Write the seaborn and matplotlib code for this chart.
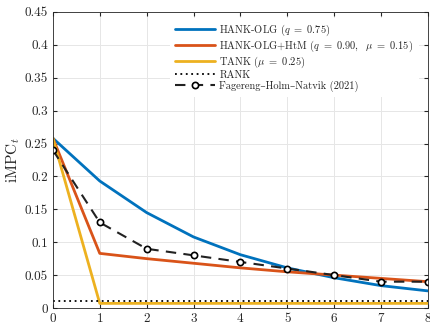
import numpy as np
import pandas as pd
import seaborn as sns
import matplotlib
matplotlib.use("Agg")
import matplotlib.pyplot as plt

horizon = [0, 1, 2, 3, 4, 5, 6, 7, 8]
hank_olg = [0.258, 0.193, 0.145, 0.108, 0.081, 0.061, 0.046, 0.034, 0.026]
hank_olg_htm = [0.258, 0.083, 0.075, 0.068, 0.061, 0.055, 0.050, 0.045, 0.040]
tank = [0.258, 0.007, 0.007, 0.007, 0.007, 0.007, 0.007, 0.007, 0.007]
rank = [0.01] * 9
fhn = [0.24, 0.13, 0.09, 0.08, 0.07, 0.06, 0.05, 0.04, 0.04]

labels = [r"HANK-OLG ($q\ =\ 0.75$)",
          r"HANK-OLG+HtM ($q\ =\ 0.90,\ \ \mu\ =\ 0.15$)",
          r"TANK ($\mu\ =\ 0.25$)",
          "RANK",
          "Fagereng\u2013Holm\u2013Natvik (2021)"]
yticks = [0, 0.05, 0.1, 0.15, 0.2, 0.25, 0.3, 0.35, 0.4, 0.45]
ytick_labels = ["0", "0.05", "0.1", "0.15", "0.2", "0.25", "0.3", "0.35", "0.4", "0.45"]

sns.set_style("white")
plt.rcParams["font.family"] = ["cmr10", "DejaVu Serif"]
plt.rcParams["mathtext.fontset"] = "cm"
plt.rcParams["axes.unicode_minus"] = False

fig = plt.figure(figsize=(4.3, 3.22), dpi=100)
ax = fig.add_axes([0.123, 0.0435, 0.872, 0.9195])

colors = ["#0072BD", "#D95319", "#EDB120"]
for series, lab, c in zip([hank_olg, hank_olg_htm, tank], labels[:3], colors):
    sns.lineplot(x=horizon, y=series, ax=ax, color=c, linewidth=2.0, label=lab)
sns.lineplot(x=horizon, y=rank, ax=ax, color="black", linewidth=1.3,
             linestyle=(0, (1, 2)), label=labels[3])
sns.lineplot(x=horizon, y=fhn, ax=ax, color="#222222", linewidth=1.5,
             linestyle=(0, (5, 3.5)), marker="o", markersize=4.5,
             markerfacecolor="white", markeredgecolor="black",
             markeredgewidth=1.2, label=labels[4])

ax.set_xlim(0, 8)
ax.set_ylim(0, 0.45)
ax.set_xticks(horizon)
ax.set_xticklabels([str(h) for h in horizon])
ax.set_yticks(yticks)
ax.set_yticklabels(ytick_labels)
ax.grid(True, color="#e6e6e6", linewidth=0.7)
ax.set_axisbelow(True)
ax.tick_params(direction="in", length=3, labelsize=9.5, colors="#262626",
               top=True, right=True, bottom=True, left=True)
for s in ax.spines.values():
    s.set_color("#262626")
    s.set_linewidth(0.6)
ax.set_ylabel(r"iMPC$_t$", fontsize=11, labelpad=2)
ax.set_xlabel("")

leg = ax.legend(loc="upper right", fontsize=7.5, frameon=True, framealpha=1,
                edgecolor="white", facecolor="white", handlelength=3.8,
                borderpad=0.5, labelspacing=0.05, handletextpad=0.45,
                bbox_to_anchor=(0.99, 0.998))
leg.get_frame().set_linewidth(0)
for t in leg.get_texts():
    t.set_color("#262626")

fig.savefig("out.png", dpi=100)
